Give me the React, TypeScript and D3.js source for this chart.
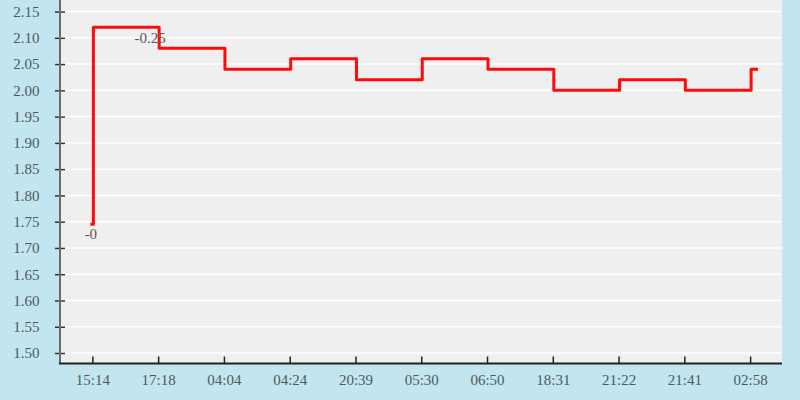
import { useEffect, useRef } from "react";
import * as d3 from "d3";

// category axis (time-of-day labels) and the step values that start at each one
const CATEGORIES = ["15:14", "17:18", "04:04", "04:24", "20:39", "05:30", "06:50", "18:31", "21:22", "21:41", "02:58"];
const STEP_VALUES = [2.12, 2.08, 2.04, 2.06, 2.02, 2.06, 2.04, 2.0, 2.02, 2.0, 2.04];
const OPEN_VALUE = 1.745;
const Y_TICKS = [1.5, 1.55, 1.6, 1.65, 1.7, 1.75, 1.8, 1.85, 1.9, 1.95, 2.0, 2.05, 2.1, 2.15];
const POINT_LABELS = [
  { text: "-0", index: 0, value: OPEN_VALUE },
  { text: "-0.25", index: 1, value: 2.12 },
];

const W = 800;
const H = 400;
const FONT = "'Liberation Serif', 'DejaVu Serif', serif";

export default function App() {
  const ref = useRef<SVGSVGElement>(null);

  useEffect(() => {
    const svg = d3.select(ref.current!);
    svg.selectAll("*").remove();

    const margin = { top: 0, right: 18, bottom: 36.5, left: 60 };
    const innerB = H - margin.bottom;

    const x = d3.scalePoint<string>().domain(CATEGORIES).range([59.5, 783]).padding(0.5);
    const y = d3.scaleLinear().domain([1.48, 2.172]).range([innerB, 0]);

    svg.append("rect").attr("width", W).attr("height", H).attr("fill", "#c3e5ef");
    svg
      .append("rect")
      .attr("x", margin.left)
      .attr("y", 0)
      .attr("width", W - margin.right - margin.left)
      .attr("height", innerB)
      .attr("fill", "#efefef");

    // grid
    svg
      .append("g")
      .selectAll("line")
      .data(Y_TICKS)
      .join("line")
      .attr("x1", margin.left)
      .attr("x2", W - margin.right)
      .attr("y1", (d) => y(d))
      .attr("y2", (d) => y(d))
      .attr("stroke", "#ffffff")
      .attr("stroke-width", 1.5);

    // y axis
    const gy = svg
      .append("g")
      .attr("transform", `translate(${margin.left},0)`)
      .call(
        d3
          .axisLeft(y)
          .tickValues(Y_TICKS)
          .tickSize(5)
          .tickPadding(15.5)
          .tickFormat((d) => d3.format(".2f")(d as number)),
      );
    gy.select(".domain").remove();
    gy.selectAll(".tick line").attr("x1", -5).attr("x2", 5).attr("stroke", "#333").attr("stroke-width", 1.5);
    gy.selectAll("text").attr("fill", "#4d5a5e").attr("font-family", FONT).attr("font-size", "15px");
    svg
      .append("line")
      .attr("x1", margin.left)
      .attr("x2", margin.left)
      .attr("y1", 0)
      .attr("y2", innerB)
      .attr("stroke", "#6b6b6b")
      .attr("stroke-width", 2);

    // x axis
    const gx = svg
      .append("g")
      .attr("transform", `translate(0,${innerB})`)
      .call(d3.axisBottom(x).tickSize(-7).tickPadding(11));
    gx.select(".domain").remove();
    gx.selectAll(".tick line").attr("stroke", "#222").attr("stroke-width", 1.5);
    gx.selectAll("text").attr("fill", "#4d5a5e").attr("font-family", FONT).attr("font-size", "15px");
    svg
      .append("line")
      .attr("x1", margin.left - 1)
      .attr("x2", W - margin.right)
      .attr("y1", innerB)
      .attr("y2", innerB)
      .attr("stroke", "#222")
      .attr("stroke-width", 2);

    // step line
    const step = x.step();
    const pts: [number, number][] = [
      [x(CATEGORIES[0])! - 2, OPEN_VALUE],
      ...CATEGORIES.map((c, i) => [x(c)! + 1, STEP_VALUES[i]] as [number, number]),
      [x(CATEGORIES[CATEGORIES.length - 1])! + step * 0.12, STEP_VALUES[STEP_VALUES.length - 1]],
    ];
    const line = d3
      .line<[number, number]>()
      .x((d) => d[0])
      .y((d) => y(d[1]))
      .curve(d3.curveStepAfter);
    svg
      .append("path")
      .attr("d", line(pts))
      .attr("fill", "none")
      .attr("stroke", "#ff0a0a")
      .attr("stroke-width", 3)
      .attr("stroke-linejoin", "round");

    // point labels
    svg
      .append("g")
      .selectAll("text")
      .data(POINT_LABELS)
      .join("text")
      .attr("x", (d) => x(CATEGORIES[d.index])! + (d.index === 0 ? -1.5 : -8))
      .attr("y", (d) => y(d.value) + (d.index === 0 ? 15 : 16))
      .attr("text-anchor", "middle")
      .attr("fill", "#4d5a5e")
      .attr("font-family", FONT)
      .attr("font-size", "15px")
      .text((d) => d.text);
  }, []);

  return (
    <>
      <style>{`body{margin:0}`}</style>
      <svg ref={ref} width={W} height={H} style={{ display: "block" }} />
    </>
  );
}
